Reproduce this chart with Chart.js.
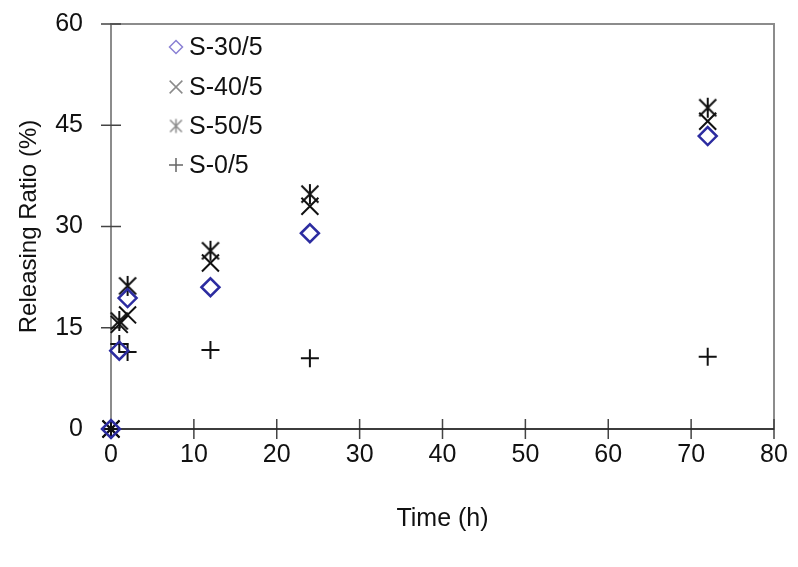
<!DOCTYPE html>
<html>
<head>
<meta charset="utf-8">
<script src="https://cdn.jsdelivr.net/npm/chart.js@4.4.1/dist/chart.umd.min.js"></script>
<style>
  html, body { margin: 0; padding: 0; background: #fff; }
</style>
</head>
<body>
<canvas id="chartRelease" width="798" height="567"></canvas>
<script>
// data
const timeH = [0, 1, 2, 12, 24, 72];
const s30 = [0, 11.6, 19.4, 21.0, 29.0, 43.4];
const s40 = [0, 15.5, 16.9, 24.6, 33.0, 45.6];
const s50 = [0, 16.0, 21.2, 26.4, 34.8, 47.6];
const s00 = [0, 12.6, 11.4, 11.7, 10.5, 10.7];
const seriesNames = ["S-30/5", "S-40/5", "S-50/5", "S-0/5"];
const xTicks = [0, 10, 20, 30, 40, 50, 60, 70, 80];
const yTicks = [0, 15, 30, 45, 60];

const FONT = "Liberation Sans, Arial, sans-serif";

const toPoints = function (ys) {
    return ys.map((y, i) => ({ x: timeH[i], y: y }));
};

// asterisk marker: vertical bar plus an X
const makeAsterisk = function (half, color, lw) {
    let c = document.createElement("canvas");
    let s = Math.ceil(half * 2 + lw * 2);
    c.width = s; c.height = s;
    let g = c.getContext("2d");
    let m = s / 2;
    g.strokeStyle = color;
    g.lineWidth = lw;
    g.beginPath();
    g.moveTo(m, m - half); g.lineTo(m, m + half);
    g.moveTo(m - half * 0.85, m - half * 0.85); g.lineTo(m + half * 0.85, m + half * 0.85);
    g.moveTo(m + half * 0.85, m - half * 0.85); g.lineTo(m - half * 0.85, m + half * 0.85);
    g.stroke();
    return c;
};

const asterisk = makeAsterisk(10, "#111", 2);

// crossing tick marks and the plot frame
const frameTicksPlugin = {
    id: 'frameTicks',
    beforeDatasetsDraw(chart) {
        const { ctx, chartArea } = chart;
        const xs = chart.scales.x, ys = chart.scales.y;
        ctx.save();
        ctx.strokeStyle = "#8c8c8c";
        ctx.lineWidth = 2;
        ctx.strokeRect(chartArea.left, chartArea.top, chartArea.right - chartArea.left, chartArea.bottom - chartArea.top);

        ctx.strokeStyle = "#444";
        ctx.lineWidth = 1.5;
        ctx.beginPath();
        yTicks.forEach(v => {
            let p = ys.getPixelForValue(v);
            ctx.moveTo(chartArea.left - 10, p);
            ctx.lineTo(chartArea.left + 10, p);
        });
        xTicks.forEach(v => {
            let p = xs.getPixelForValue(v);
            ctx.moveTo(p, chartArea.bottom - 10);
            ctx.lineTo(p, chartArea.bottom + 10);
        });
        ctx.stroke();

        ctx.strokeStyle = "#222";
        ctx.beginPath();
        ctx.moveTo(chartArea.left, chartArea.bottom);
        ctx.lineTo(chartArea.right, chartArea.bottom);
        ctx.stroke();
        ctx.restore();
    }
};

// legend drawn inside the plot, top left
const insideLegendPlugin = {
    id: 'insideLegend',
    afterDraw(chart) {
        const ctx = chart.ctx;
        const mx = 176, tx = 189;
        const rows = [47, 87, 126, 165];
        const marks = [
            { style: 'rectRot', r: 6.5, color: "#8a80d4", lw: 1.5 },
            { style: 'crossRot', r: 9, color: "#8a8a8a", lw: 1.5 },
            { style: makeAsterisk(7, "#8a8a8a", 1.5), r: 7 },
            { style: 'cross', r: 7, color: "#666", lw: 1.5 }
        ];
        ctx.save();
        seriesNames.forEach((name, i) => {
            let m = marks[i];
            ctx.strokeStyle = m.color || "#888";
            ctx.fillStyle = "rgba(0,0,0,0)";
            ctx.lineWidth = m.lw || 1.5;
            Chart.helpers.drawPoint(ctx, { pointStyle: m.style, radius: m.r, rotation: 0, borderWidth: m.lw || 1.5 }, mx, rows[i]);
            ctx.fillStyle = "#111";
            ctx.font = "25px " + FONT;
            ctx.textBaseline = "middle";
            ctx.textAlign = "left";
            ctx.fillText(name, tx, rows[i] + 1);
        });
        ctx.restore();
    }
};

new Chart(document.getElementById('chartRelease'), {
    type: 'scatter',
    data: {
        datasets: [
            {
                label: seriesNames[0],
                data: toPoints(s30),
                pointStyle: 'rectRot',
                radius: 9,
                borderColor: "#2c2ca0",
                backgroundColor: "rgba(0,0,0,0)",
                borderWidth: 2.5,
                clip: false
            }, {
                label: seriesNames[1],
                data: toPoints(s40),
                pointStyle: 'crossRot',
                radius: 12,
                borderColor: "#111",
                borderWidth: 2,
                clip: false
            }, {
                label: seriesNames[2],
                data: toPoints(s50),
                pointStyle: asterisk,
                radius: 10,
                borderColor: "#111",
                clip: false
            }, {
                label: seriesNames[3],
                data: toPoints(s00),
                pointStyle: 'cross',
                radius: 9,
                borderColor: "#111",
                borderWidth: 2,
                clip: false
            }
        ]
    },
    options: {
        responsive: false,
        animation: false,
        devicePixelRatio: 1,
        layout: { padding: { left: 0, top: 24, right: 24, bottom: 0 } },
        scales: {
            x: {
                type: 'linear',
                min: 0,
                max: 80,
                afterFit: function (scale) {
                    scale.height = 138;
                    scale.paddingLeft = 0;
                    scale.paddingRight = 0;
                },
                afterBuildTicks: function (scale) { scale.ticks = xTicks.map(v => ({ value: v })); },
                grid: { display: false, drawTicks: false },
                border: { display: false },
                ticks: {
                    padding: 11,
                    color: "#111",
                    font: { family: FONT, size: 25 }
                },
                title: {
                    display: true,
                    text: "Time (h)",
                    color: "#111",
                    font: { family: FONT, size: 25 },
                    padding: { top: 0, bottom: 33 }
                }
            },
            y: {
                type: 'linear',
                min: 0,
                max: 60,
                afterFit: function (scale) {
                    scale.width = 111;
                    scale.paddingTop = 0;
                    scale.paddingBottom = 0;
                },
                afterBuildTicks: function (scale) { scale.ticks = yTicks.map(v => ({ value: v })); },
                grid: { display: false, drawTicks: false },
                border: { display: false },
                ticks: {
                    padding: 28,
                    color: "#111",
                    font: { family: FONT, size: 25 }
                },
                title: {
                    display: true,
                    text: "Releasing Ratio (%)",
                    color: "#111",
                    font: { family: FONT, size: 24 },
                    padding: { top: 15, bottom: 0 }
                }
            }
        },
        plugins: {
            legend: { display: false },
            tooltip: { enabled: false }
        }
    },
    plugins: [frameTicksPlugin, insideLegendPlugin]
});
</script>
</body>
</html>
